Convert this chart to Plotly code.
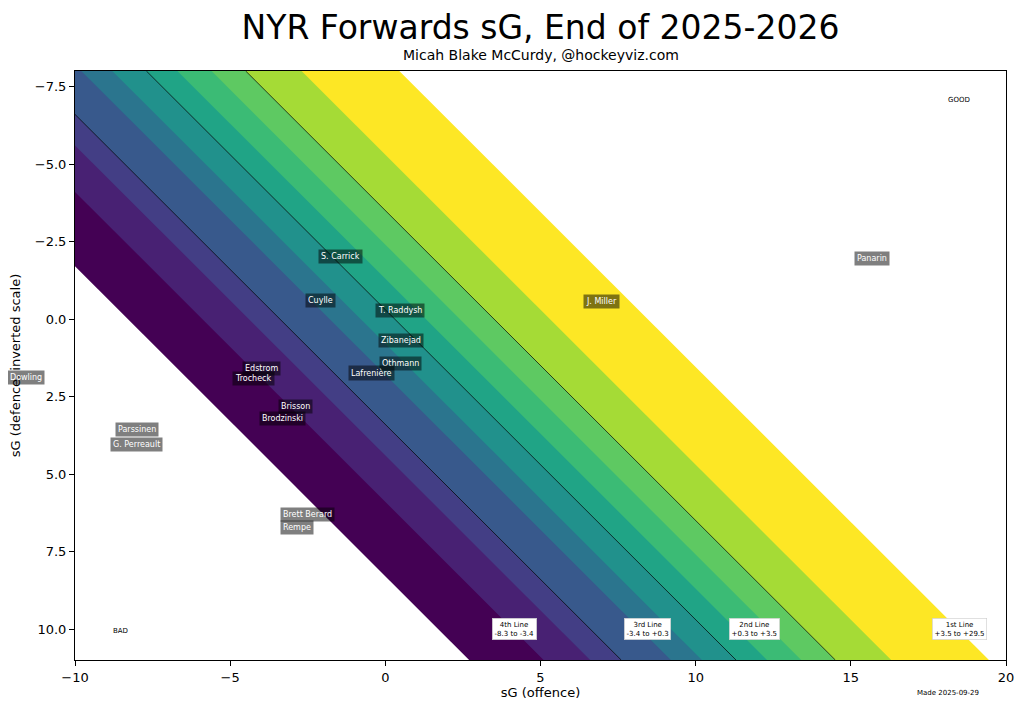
import plotly.graph_objects as go

# players: sG offence (x) and sG defence (y, inverted on the chart)
players = ["S. Carrick", "Panarin", "Cuylle", "J. Miller", "T. Raddysh", "Zibanejad",
           "Othmann", "Lafrenière", "Edstrom", "Trocheck", "Dowling", "Brisson",
           "Brodzinski", "Parssinen", "G. Perreault", "Brett Berard", "Rempe"]
offence = [-1.43, 15.67, -2.10, 6.97, 0.47, 0.50, 0.50, -0.44, -3.98, -4.25,
           -11.58, -2.89, -3.32, -7.99, -8.03, -2.51, -2.84]
defence = [-2.03, -1.95, -0.61, -0.58, -0.26, 0.70, 1.45, 1.74, 1.60, 1.93,
           1.90, 2.83, 3.22, 3.57, 4.06, 6.32, 6.74]

# band edges in total sG (offence - defence)
band_edges = [-8.3, -5.9, -4.4, -3.4, -1.8, -0.8, 0.3, 1.3, 2.4, 3.5, 5.3, 8.45]
band_colors = ["#440154", "#482173", "#433e85", "#38598c", "#2b758e", "#21918c",
               "#20a486", "#3bbb75", "#5ec962", "#a5db36", "#fde725"]

tier_names = ["4th Line", "3rd Line", "2nd Line", "1st Line"]
tier_lo = [-8.3, -3.4, 0.3, 3.5]
tier_hi = [-3.4, 0.3, 3.5, 29.5]

x_range = [-10, 20]
y_range = [11, -8]
y_top, y_bot = min(y_range), max(y_range)

fig = go.Figure()

# diagonal bands: x - y between two edges; each overlaps a bit under the next one so no seams show
n_bands = len(band_edges) - 1
for i in range(n_bands):
    lo = band_edges[i]
    hi = band_edges[i + 1] + (0.15 if i < n_bands - 1 else 0)
    fig.add_trace(go.Scatter(
        x=[y_top + lo, y_top + hi, y_bot + hi, y_bot + lo, y_top + lo],
        y=[y_top, y_top, y_bot, y_bot, y_top],
        mode="lines", fill="toself", fillcolor=band_colors[i],
        line=dict(width=0), hoverinfo="skip", showlegend=False))

# black lines between tiers
for c in tier_lo[1:]:
    fig.add_trace(go.Scatter(
        x=[y_top + c, y_bot + c], y=[y_top, y_bot], mode="lines",
        line=dict(color="black", width=0.7), hoverinfo="skip", showlegend=False))

# player labels
for name, ox, dy in zip(players, offence, defence):
    if x_range[0] <= ox <= x_range[1]:
        xx, xref = ox, "x"
    else:
        xx, xref = (ox - x_range[0]) / (x_range[1] - x_range[0]), "paper"
    fig.add_annotation(x=xx, y=dy, xref=xref, yref="y", text=name, showarrow=False,
                       xanchor="center", yanchor="middle",
                       font=dict(family="DejaVu Sans", size=8, color="white"),
                       bgcolor="rgba(0,0,0,0.5)", borderpad=2)

# tier labels along the bottom
label_y = 10
for name, lo, hi in zip(tier_names, tier_lo, tier_hi):
    lx = min(label_y + (lo + hi) / 2, 18.5)
    fig.add_annotation(x=lx, y=label_y, text=f"{name}<br>{lo:+.1f} to {hi:+.1f}",
                       showarrow=False, xanchor="center", yanchor="middle",
                       font=dict(family="DejaVu Sans", size=7, color="black"),
                       bgcolor="white", bordercolor="#cccccc", borderwidth=0.6, borderpad=2)

fig.add_annotation(x=18.49, y=-7.06, text="GOOD", showarrow=False,
                   xanchor="center", yanchor="middle",
                   font=dict(family="DejaVu Sans", size=7, color="black"))
fig.add_annotation(x=-8.52, y=10.07, text="BAD", showarrow=False,
                   xanchor="center", yanchor="middle",
                   font=dict(family="DejaVu Sans", size=7, color="black"))

fig.add_annotation(x=0.5, y=1 + 16 / 589, xref="paper", yref="paper",
                   text="Micah Blake McCurdy, @hockeyviz.com", showarrow=False,
                   xanchor="center", yanchor="middle",
                   font=dict(family="DejaVu Sans", size=14, color="black"))
fig.add_annotation(x=(948 - 75) / 931, y=-33 / 589, xref="paper", yref="paper",
                   text="Made 2025-09-29", showarrow=False,
                   xanchor="center", yanchor="middle",
                   font=dict(family="DejaVu Sans", size=7, color="black"))

axis_style = dict(showgrid=False, zeroline=False, showline=True, linecolor="black",
                  linewidth=1, mirror=True, ticks="outside", ticklen=5, automargin=False,
                  tickcolor="black", tickfont=dict(family="DejaVu Sans", size=13, color="black"))

# page has an 8px body margin, so the plot box is shifted up/left by 8px here
fig.update_layout(
    width=1024, height=713,
    margin=dict(l=67, r=26, t=63, b=61),
    paper_bgcolor="white", plot_bgcolor="white",
    title=dict(text="NYR Forwards sG, End of 2025-2026", x=0.5, xref="paper",
               y=1 - 19 / 713, yanchor="middle",
               font=dict(family="DejaVu Sans", size=33, color="black")),
    xaxis=dict(range=x_range, tickvals=[-10, -5, 0, 5, 10, 15, 20],
               title=dict(text="sG (offence)", font=dict(family="DejaVu Sans", size=13, color="black"),
                          standoff=4),
               **axis_style),
    yaxis=dict(range=y_range, tickvals=[-7.5, -5, -2.5, 0, 2.5, 5, 7.5, 10],
               ticktext=["−7.5", "−5.0", "−2.5", "0.0", "2.5", "5.0", "7.5", "10.0"],
               title=dict(text="sG (defence, inverted scale)",
                          font=dict(family="DejaVu Sans", size=13, color="black"), standoff=11),
               **axis_style),
)

fig.write_html("out.html")
